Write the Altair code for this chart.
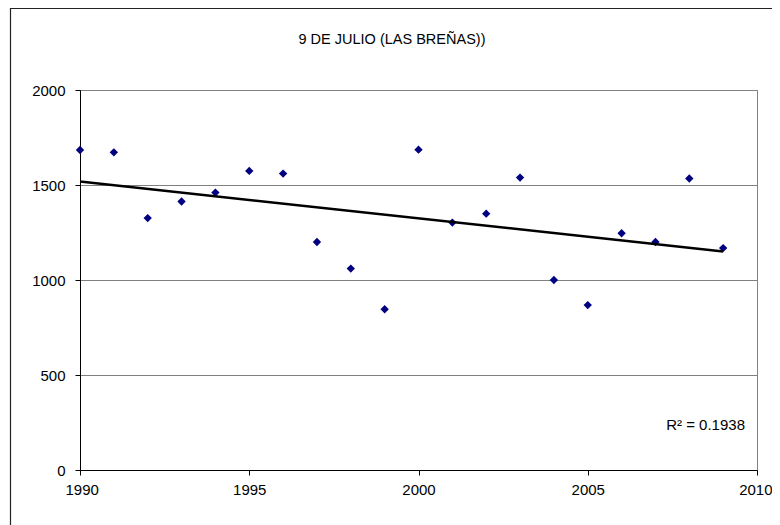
import altair as alt
import pandas as pd

years = list(range(1990, 2010))
values = [1684, 1672, 1326, 1413, 1460, 1574, 1560, 1200, 1060, 846,
          1686, 1302, 1349, 1539, 1000, 868, 1246, 1200, 1534, 1168]
title_text = "9 DE JULIO (LAS BREÑAS))"
r2_label = "R² = 0.1938"
x_ticks = [1990, 1995, 2000, 2005, 2010]
y_ticks = [0, 500, 1000, 1500, 2000]

df = pd.DataFrame({"year": years, "value": values})

FONT = "Liberation Sans"
W, H = 677, 380

xs = alt.Scale(domain=[1990, 2010], nice=False, zero=False)
ys = alt.Scale(domain=[0, 2000], nice=False)

x_axis = alt.Axis(values=x_ticks, format="d", title=None, grid=False,
                  domainColor="black", tickColor="black", tickSize=5,
                  labelFontSize=15, labelFont=FONT, labelColor="black", labelPadding=7,
                  labelFlush=True, labelFlushOffset=15, labelOverlap=False)
y_axis = alt.Axis(values=y_ticks, format="d", title=None, grid=True, gridColor="#808080",
                  domainColor="black", tickColor="black", tickSize=5,
                  labelFontSize=15, labelFont=FONT, labelColor="black", labelPadding=10,
                  labelFlush=False, labelOverlap=False)

base = alt.Chart(df)

border = alt.Chart(pd.DataFrame({"a": [0]})).mark_rect(
    fill=None, stroke="#222222", strokeWidth=1.2, clip=False
).encode(
    x=alt.value(-69.5), x2=alt.value(W + 100),
    y=alt.value(-81.5), y2=alt.value(H + 100)
)

points = base.mark_point(shape="diamond", filled=True, color="#000080",
                         size=70, opacity=1).encode(
    x=alt.X("year:Q", scale=xs, axis=x_axis),
    y=alt.Y("value:Q", scale=ys, axis=y_axis),
)

trend = base.transform_regression("year", "value").mark_line(
    color="black", strokeWidth=2.5
).encode(
    x=alt.X("year:Q", scale=xs),
    y=alt.Y("value:Q", scale=ys),
)

title = alt.Chart(pd.DataFrame({"t": [title_text]})).mark_text(
    align="center", baseline="alphabetic", font=FONT, fontSize=14.5, color="black"
).encode(text="t:N", x=alt.value(312), y=alt.value(-46.5))

r2 = alt.Chart(pd.DataFrame({"t": [r2_label]})).mark_text(
    align="right", baseline="alphabetic", font=FONT, fontSize=15, color="black"
).encode(text="t:N", x=alt.value(665), y=alt.value(340))

chart = alt.layer(border, points, trend, title, r2).properties(
    width=W, height=H,
    padding={"left": 72, "top": 82, "right": 15, "bottom": 55},
    autosize=alt.AutoSizeParams(type="none"),
).configure_view(stroke="#808080", strokeWidth=1)

chart.save("out.html", embed_options={"renderer": "svg", "actions": False})
